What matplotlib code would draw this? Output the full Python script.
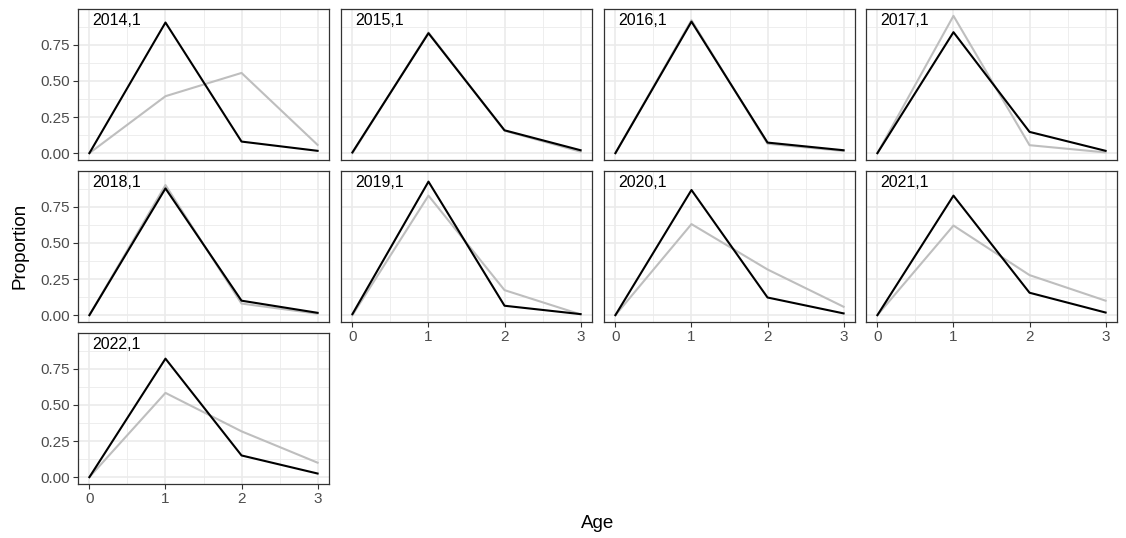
import matplotlib as mpl
mpl.use('Agg')
import matplotlib.pyplot as plt
from matplotlib.ticker import MultipleLocator

plt.rcParams['font.family'] = ['Liberation Sans', 'DejaVu Sans']

# data
ages = [0, 1, 2, 3]
panels = ['2014,1', '2015,1', '2016,1', '2017,1', '2018,1',
          '2019,1', '2020,1', '2021,1', '2022,1']
observed = [  # grey line
    [0.0, 0.394, 0.555, 0.057],
    [0.0, 0.835, 0.155, 0.010],
    [0.0, 0.920, 0.065, 0.015],
    [0.0, 0.950, 0.055, 0.005],
    [0.0, 0.900, 0.080, 0.010],
    [0.0, 0.827, 0.173, 0.005],
    [0.0, 0.630, 0.316, 0.058],
    [0.0, 0.620, 0.277, 0.100],
    [0.0, 0.583, 0.317, 0.100],
]
predicted = [  # black line
    [0.0, 0.904, 0.080, 0.016],
    [0.005, 0.830, 0.158, 0.020],
    [0.0, 0.910, 0.073, 0.020],
    [0.0, 0.837, 0.147, 0.016],
    [0.0, 0.877, 0.100, 0.016],
    [0.007, 0.924, 0.065, 0.007],
    [0.0, 0.866, 0.122, 0.012],
    [0.0, 0.827, 0.155, 0.018],
    [0.0, 0.820, 0.150, 0.025],
]
yticks = [0.0, 0.25, 0.5, 0.75]
ytick_labels = ['0.00', '0.25', '0.50', '0.75']

W, H = 1126, 538
fig = plt.figure(figsize=(W / 100, H / 100), dpi=100)

col_left = [78, 341, 604, 866]
row_top = [9, 171, 333]
pw, ph = 251, 151
ncol = 4
n = len(panels)

ymax = max(max(v) for v in observed + predicted)
ypad = ymax * 0.05

for i, name in enumerate(panels):
    r, c = divmod(i, ncol)
    ax = fig.add_axes([col_left[c] / W, 1 - (row_top[r] + ph) / H, pw / W, ph / H])
    ax.plot(ages, observed[i], color='#BEBEBE', lw=1.5, zorder=3)
    ax.plot(ages, predicted[i], color='black', lw=1.5, zorder=4)
    ax.set_xlim(-0.15, 3.15)
    ax.set_ylim(-ypad, ymax + ypad)
    ax.set_xticks(ages)
    ax.xaxis.set_minor_locator(MultipleLocator(0.5))
    ax.set_yticks(yticks)
    ax.yaxis.set_minor_locator(MultipleLocator(0.125))
    ax.grid(which='major', color='#EBEBEB', lw=1.2, zorder=0)
    ax.grid(which='minor', color='#EBEBEB', lw=0.6, zorder=0)
    ax.set_axisbelow(True)
    for s in ax.spines.values():
        s.set_color('#333333')
        s.set_linewidth(0.9)
    ax.tick_params(which='major', length=3.5, color='#333333', width=0.8,
                   labelsize=11, labelcolor='#4D4D4D', pad=2)
    ax.tick_params(which='minor', length=0)
    # y labels only in first column, x labels only on bottom of each column
    if c == 0:
        ax.set_yticklabels(ytick_labels)
    else:
        ax.tick_params(axis='y', which='major', length=0, labelleft=False)
    if i + ncol >= n:
        ax.set_xticklabels([str(a) for a in ages])
    else:
        ax.tick_params(axis='x', which='major', length=0, labelbottom=False)
    ax.text(0.056, 0.925, name, transform=ax.transAxes, fontsize=11.5,
            ha='left', va='center', color='black')

fig.text(20 / W, 1 - 246 / H, 'Proportion', rotation=90, ha='center',
         va='center', fontsize=13.5)
fig.text(598 / W, 1 - 523 / H, 'Age', ha='center', va='center', fontsize=13.5)

fig.savefig('out.png', dpi=100)
